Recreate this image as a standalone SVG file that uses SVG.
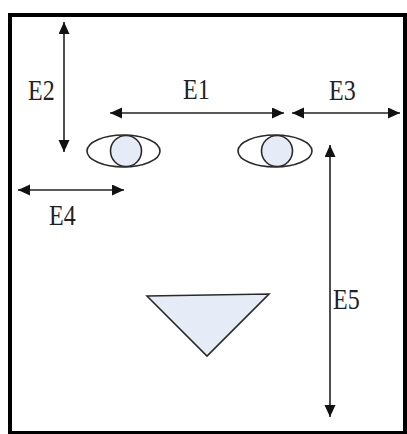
<svg xmlns="http://www.w3.org/2000/svg" width="407" height="434" viewBox="0 0 407 434">
<defs>
<marker id="ah" markerUnits="userSpaceOnUse" markerWidth="12" markerHeight="12" refX="12" refY="5.5" orient="auto-start-reverse"><path d="M0,0 L12,5.5 L0,11 z" fill="#111"/></marker>
<style>
.lbl{font-family:"Liberation Serif","Times New Roman",serif;font-size:24px;fill:#222}
.dim{stroke:#222;stroke-width:1.6;fill:none;marker-start:url(#ah);marker-end:url(#ah)}
.shape{stroke:#2a2a2a;stroke-width:1.6}
</style>
</defs>
<rect width="407" height="434" fill="#fff"/>
<rect id="frame" x="10" y="15" width="395" height="418" fill="#fff" stroke="#000" stroke-width="4"/>
<g id="left-eye">
<ellipse class="shape" cx="123.5" cy="151" rx="36.5" ry="16" fill="none"/>
<circle class="shape" cx="126" cy="151" r="15.5" fill="#E6ECF7"/>
</g>
<g id="right-eye">
<ellipse class="shape" cx="275" cy="151" rx="37" ry="16" fill="none"/>
<circle class="shape" cx="277" cy="151" r="15.5" fill="#E6ECF7"/>
</g>
<g id="mouth">
<polygon class="shape" points="147,296 269,294 207,356" fill="#E6ECF7"/>
</g>
<g id="connectors">
<line class="dim" x1="64" y1="22" x2="64" y2="152"/>
<line class="dim" x1="110" y1="113" x2="284" y2="113"/>
<line class="dim" x1="292" y1="113" x2="400" y2="113"/>
<line class="dim" x1="18" y1="190" x2="124" y2="190"/>
<line class="dim" x1="330" y1="145" x2="330" y2="417"/>
</g>
<g id="labels">
<text class="lbl" transform="translate(28,100) scale(1,1.25)">E2</text>
<text class="lbl" transform="translate(183,99) scale(1,1.25)">E1</text>
<text class="lbl" transform="translate(329,100) scale(1,1.25)">E3</text>
<text class="lbl" transform="translate(49,225) scale(1,1.25)">E4</text>
<text class="lbl" transform="translate(333,309) scale(1,1.25)">E5</text>
</g>
</svg>
